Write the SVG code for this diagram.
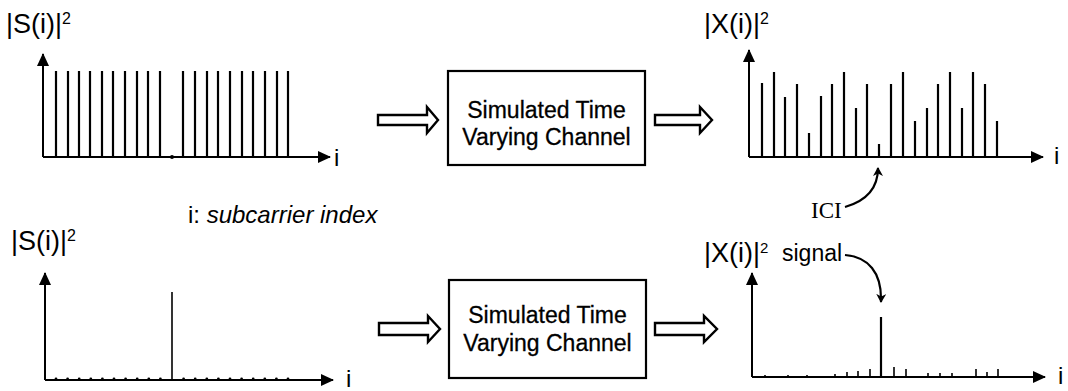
<svg xmlns="http://www.w3.org/2000/svg" width="1068" height="391" viewBox="0 0 1068 391">
<style>
.ax{stroke:#000;stroke-width:2;fill:none}
.bar{stroke:#000;stroke-width:2.2}
.sbar{stroke:#000;stroke-width:1.6}
.box{fill:#fff;stroke:#000;stroke-width:2.2}
.hol{fill:#fff;stroke:#000;stroke-width:2.4;stroke-linejoin:miter}
.cur{stroke:#000;stroke-width:2.2;fill:none}
.t{font-family:"Liberation Sans",Arial,sans-serif;fill:#000}
.bt{font-family:"Liberation Sans",Arial,sans-serif;font-size:23px;fill:#000;text-anchor:middle;stroke:#000;stroke-width:0.3}
.lab{font-family:"Liberation Sans",Arial,sans-serif;font-size:27px;fill:#000}
.serif{font-family:"Liberation Serif","Times New Roman",serif;fill:#000}
</style>
<defs>
<marker id="ah" markerUnits="userSpaceOnUse" markerWidth="13" markerHeight="12" refX="12" refY="6" orient="auto">
<path d="M0,0 L13,6 L0,12 Z" fill="#000"/>
</marker>
<marker id="sh" markerUnits="userSpaceOnUse" markerWidth="10" markerHeight="10" refX="8" refY="5" orient="auto">
<path d="M0,0 L9,5 L0,10 L2.5,5 Z" fill="#000"/>
</marker>
</defs>

<g id="chart-top-left">
<text class="lab" x="6" y="33">|S(i)|<tspan font-size="16" dy="-9">2</tspan></text>
<path class="ax" d="M43,157 V54" marker-end="url(#ah)"/>
<path class="ax" d="M43,157 H330" marker-end="url(#ah)"/>
<g class="bar">
<line x1="56" y1="71" x2="56" y2="157"/><line x1="68" y1="71" x2="68" y2="157"/><line x1="79" y1="71" x2="79" y2="157"/><line x1="90" y1="71" x2="90" y2="157"/><line x1="102" y1="71" x2="102" y2="157"/><line x1="113" y1="71" x2="113" y2="157"/><line x1="125" y1="71" x2="125" y2="157"/><line x1="137" y1="71" x2="137" y2="157"/><line x1="148" y1="71" x2="148" y2="157"/><line x1="160" y1="71" x2="160" y2="157"/>
<line x1="183" y1="71" x2="183" y2="157"/><line x1="195" y1="71" x2="195" y2="157"/><line x1="207" y1="71" x2="207" y2="157"/><line x1="218" y1="71" x2="218" y2="157"/><line x1="230" y1="71" x2="230" y2="157"/><line x1="242" y1="71" x2="242" y2="157"/><line x1="253" y1="71" x2="253" y2="157"/><line x1="265" y1="71" x2="265" y2="157"/><line x1="277" y1="71" x2="277" y2="157"/><line x1="288" y1="71" x2="288" y2="157"/>
</g>
<circle cx="172" cy="157" r="2" fill="#000"/>
<text class="t" x="334" y="166" font-size="24">i</text>
</g>

<g id="box-top">
<rect class="box" x="448" y="71" width="197" height="94"/>
<text class="bt" x="546.5" y="118">Simulated Time</text>
<text class="bt" x="546.5" y="145">Varying Channel</text>
</g>

<g id="chart-top-right">
<text class="lab" x="704" y="33">|X(i)|<tspan font-size="16" dy="-9">2</tspan></text>
<path class="ax" d="M749,157 V50" marker-end="url(#ah)"/>
<path class="ax" d="M749,157 H1043" marker-end="url(#ah)"/>
<g class="bar">
<line x1="762" y1="83" x2="762" y2="157"/><line x1="774" y1="72" x2="774" y2="157"/><line x1="785" y1="97" x2="785" y2="157"/><line x1="797" y1="84" x2="797" y2="157"/><line x1="809" y1="133" x2="809" y2="157"/><line x1="821" y1="96" x2="821" y2="157"/><line x1="832" y1="84" x2="832" y2="157"/><line x1="844" y1="72" x2="844" y2="157"/><line x1="856" y1="108" x2="856" y2="157"/><line x1="867" y1="84" x2="867" y2="157"/><line x1="879" y1="144" x2="879" y2="157"/><line x1="891" y1="84" x2="891" y2="157"/><line x1="903" y1="72" x2="903" y2="157"/><line x1="915" y1="121" x2="915" y2="157"/><line x1="927" y1="108" x2="927" y2="157"/><line x1="938" y1="84" x2="938" y2="157"/><line x1="950" y1="72" x2="950" y2="157"/><line x1="962" y1="108" x2="962" y2="157"/><line x1="973" y1="72" x2="973" y2="157"/><line x1="985" y1="84" x2="985" y2="157"/><line x1="997" y1="121" x2="997" y2="157"/>
</g>
<text class="t" x="1054" y="164" font-size="24">i</text>
</g>

<g id="label-index">
<text class="t" x="188" y="223" font-size="24">i: <tspan font-style="italic">subcarrier index</tspan></text>
</g>

<g id="label-ici">
<text class="serif" x="811" y="218" font-size="23">ICI</text>
</g>

<g id="chart-bottom-left">
<text class="lab" x="11" y="250">|S(i)|<tspan font-size="16" dy="-9">2</tspan></text>
<path class="ax" d="M45,380 V273" marker-end="url(#ah)"/>
<path class="ax" d="M45,380 H333" marker-end="url(#ah)"/>
<line class="sbar" x1="172" y1="292" x2="172" y2="380"/>
<g fill="#000">
<circle cx="56" cy="379" r="1.4"/><circle cx="67.6" cy="379" r="1.4"/><circle cx="79.2" cy="379" r="1.4"/><circle cx="90.8" cy="379" r="1.4"/><circle cx="102.4" cy="379" r="1.4"/><circle cx="114" cy="379" r="1.4"/><circle cx="125.6" cy="379" r="1.4"/><circle cx="137.2" cy="379" r="1.4"/><circle cx="148.8" cy="379" r="1.4"/><circle cx="160.4" cy="379" r="1.4"/>
<circle cx="183.6" cy="379" r="1.4"/><circle cx="195.2" cy="379" r="1.4"/><circle cx="206.8" cy="379" r="1.4"/><circle cx="218.4" cy="379" r="1.4"/><circle cx="230" cy="379" r="1.4"/><circle cx="241.6" cy="379" r="1.4"/><circle cx="253.2" cy="379" r="1.4"/><circle cx="264.8" cy="379" r="1.4"/><circle cx="276.4" cy="379" r="1.4"/><circle cx="288" cy="379" r="1.4"/>
</g>
<text class="t" x="346" y="387" font-size="24">i</text>
</g>

<g id="box-bottom">
<rect class="box" x="449" y="280" width="197" height="98"/>
<text class="bt" x="547.5" y="323">Simulated Time</text>
<text class="bt" x="547.5" y="351">Varying Channel</text>
</g>

<g id="chart-bottom-right">
<text class="lab" x="704" y="262">|X(i)|<tspan font-size="15" dy="-9">2</tspan></text>
<text class="t" x="782" y="261" font-size="23">signal</text>
<path class="ax" d="M752,377 V273" marker-end="url(#ah)"/>
<path class="ax" d="M752,377 H1045" marker-end="url(#ah)"/>
<line class="bar" x1="881" y1="317" x2="881" y2="377"/>
<g class="sbar">
<line x1="765" y1="375" x2="765" y2="377"/><line x1="788" y1="375" x2="788" y2="377"/><line x1="807" y1="375" x2="807" y2="377"/><line x1="835" y1="374" x2="835" y2="377"/>
<line x1="847" y1="372" x2="847" y2="377"/><line x1="858" y1="371" x2="858" y2="377"/><line x1="870" y1="369" x2="870" y2="377"/><line x1="894" y1="367" x2="894" y2="377"/><line x1="906" y1="369" x2="906" y2="377"/><line x1="928" y1="373" x2="928" y2="377"/><line x1="940" y1="373" x2="940" y2="377"/><line x1="952" y1="373" x2="952" y2="377"/><line x1="976" y1="369" x2="976" y2="377"/><line x1="987" y1="372" x2="987" y2="377"/><line x1="998" y1="369" x2="998" y2="377"/>
</g>
<text class="t" x="1058" y="384" font-size="24">i</text>
</g>

<g id="connectors">
<path class="hol" d="M378,115 H427 V107 L438,120 L427,133 V125 H378 Z"/>
<path class="hol" d="M655,115 H700 V107 L712,120 L700,133 V125 H655 Z"/>
<path class="hol" d="M379,323 H428 V316 L440,329 L428,342 V335 H379 Z"/>
<path class="hol" d="M655,323 H704 V316 L717,329 L704,342 V335 H655 Z"/>
<path class="cur" d="M845,207 C866,201 878,188 878,168" marker-end="url(#sh)"/>
<path class="cur" d="M845,255 C868,257 882,272 881,302" marker-end="url(#sh)"/>
</g>
</svg>
